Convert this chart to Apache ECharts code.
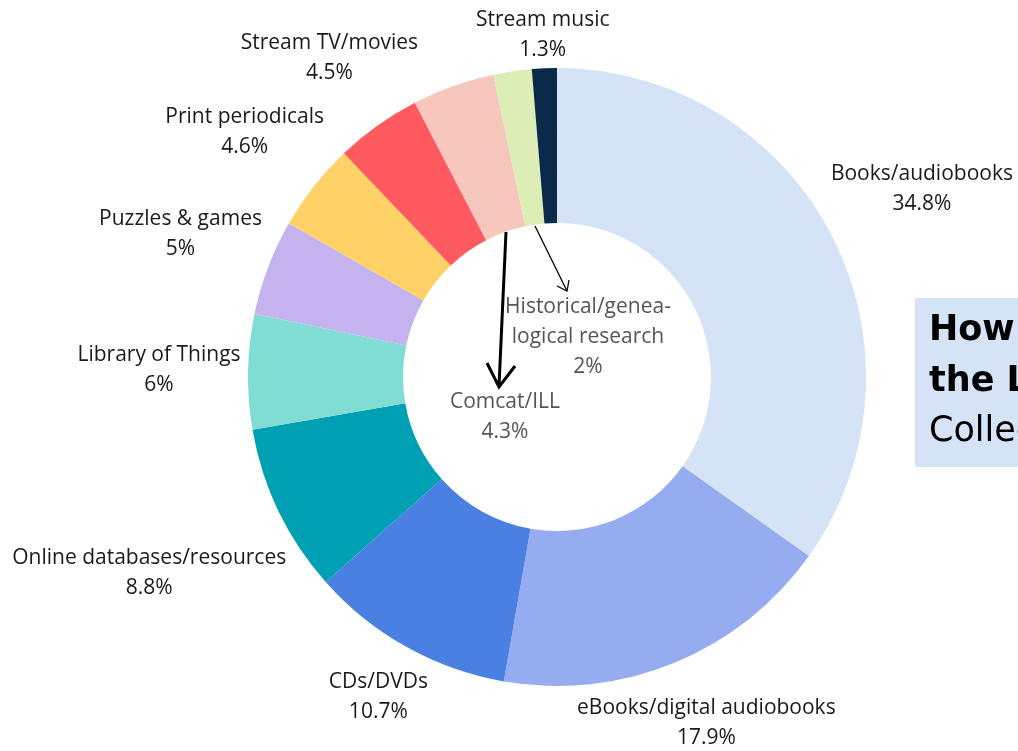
<!DOCTYPE html>
<html><head><meta charset="utf-8">
<script src="https://cdn.jsdelivr.net/npm/echarts@6/dist/echarts.min.js"></script>
<style>html,body{margin:0;padding:0;background:#fff}#c{width:1018px;height:751px}</style>
</head><body><div id="c"></div>
<script>
const categories = ["Books/audiobooks","eBooks/digital audiobooks","CDs/DVDs","Online databases/resources","Library of Things","Puzzles & games","Print periodicals","Stream TV/movies","Comcat/ILL","Historical/genea-\nlogical research","Stream music"];
const values = [34.8,17.9,10.7,8.8,6,5,4.6,4.5,4.3,2,1.3];
const valueLabels = ["34.8%","17.9%","10.7%","8.8%","6%","5%","4.6%","4.5%","4.3%","2%","1.3%"];
const colors = ["#d4e3f5","#96acf0","#4a80e2","#00a0b4","#80ddd3","#c5b3ef","#ffd166","#ff5a5f","#f7c6bc","#dcedb6","#0b2a4a"];
const titleLines = ["How people use","the Library","Collections"];
const insideIdx = [8, 9];

const W = 1018, H = 751;
const CX = 557, CY = 377, R0 = 154, R1 = 309, GAP = 7;
const total = values.reduce((a,b)=>a+b,0);
const cum = []; values.reduce((a,v,i)=>{cum[i]=a; return a+v;},0);

const chart = echarts.init(document.getElementById('c'), null, {renderer:'canvas'});
const data = categories.map((c,i)=>{
  const d = {name:c, value:values[i], itemStyle:{color:colors[i]}};
  if (insideIdx.includes(i)) d.label = {color:'#555'};
  return d;
});
chart.setOption({
  animation:false,
  graphic:[
    {type:'rect', shape:{x:915,y:298,width:120,height:169}, style:{fill:'#d4e3f5'}, z:0},
    {type:'text', left:929, top:313, style:{text:titleLines[0], font:'bold 35px "DejaVu Sans"', fill:'#000'}},
    {type:'text', left:929, top:364, style:{text:titleLines[1], font:'bold 35px "DejaVu Sans"', fill:'#000'}},
    {type:'text', left:929, top:414, style:{text:titleLines[2], font:'35px "DejaVu Sans"', fill:'#000'}},
    {type:'polyline', shape:{points:[[506,232],[499,386]]}, style:{stroke:'#000', lineWidth:3, fill:null}, z:10},
    {type:'polyline', shape:{points:[[487,363],[499,387],[515,366]]}, style:{stroke:'#000', lineWidth:3, fill:null, lineJoin:'miter'}, z:10},
    {type:'polyline', shape:{points:[[535,226],[567,291]]}, style:{stroke:'#000', lineWidth:1.3, fill:null}, z:10},
    {type:'polyline', shape:{points:[[557,286],[567,291],[569,280]]}, style:{stroke:'#000', lineWidth:1.3, fill:null}, z:10}
  ],
  series:[{
    type:'pie',
    center:[CX,CY],
    radius:[R0,R1],
    startAngle:90,
    clockwise:true,
    avoidLabelOverlap:false,
    data:data,
    label:{
      show:true, position:'outside',
      formatter:(p)=>p.name+'\n'+valueLabels[p.dataIndex],
      fontFamily:'Open Sans', fontSize:21, lineHeight:30, color:'#1a1a1a', align:'center'
    },
    labelLine:{show:false, length:10, length2:0},
    labelLayout:function(p){
      const i = p.dataIndex;
      const w = p.labelRect.width, h = p.labelRect.height;
      if (i === 8) return {x:CX-52, y:CY+40, align:'center', verticalAlign:'middle'};
      if (i === 9) return {x:CX+31, y:CY-40, align:'center', verticalAlign:'middle'};
      const a = (cum[i] + values[i]/2)/total*2*Math.PI;
      const dx = Math.sin(a), dy = -Math.cos(a);
      const r = R1 + GAP + Math.abs(dx)*w/2 + Math.abs(dy)*h/2;
      let x = CX + dx*r, y = CY + dy*r;
      y = Math.max(y, h/2 + 5);
      y = Math.min(y, H - h/2 + 2);
      return {x:x, y:y, align:'center', verticalAlign:'middle'};
    },
    emphasis:{disabled:true}
  }]
});
</script></body></html>
